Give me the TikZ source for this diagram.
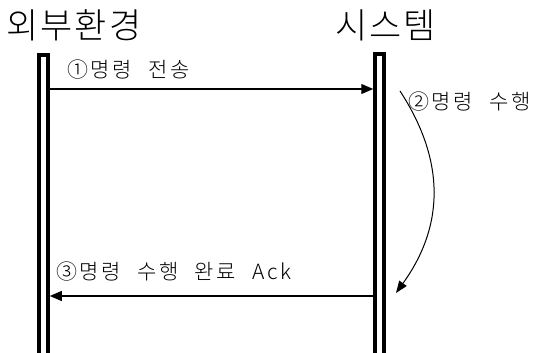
\documentclass[tikz,border=0pt]{standalone}
\usepackage{fontspec}
\newfontfamily\krt[LetterSpace=6,WordSpace=1.8]{Noto Sans CJK KR Light}
\newfontfamily\krl[LetterSpace=12,WordSpace=2.3]{Noto Sans CJK KR Light}
\usetikzlibrary{arrows.meta}
\begin{document}
\begin{tikzpicture}[x=1pt,y=-1pt,
  bar/.style={draw,line width=3.5pt,fill=white,minimum width=9pt,inner sep=0pt,anchor=north},
  msg/.style={line width=1.3pt,-{Triangle[length=12pt,width=10pt]}},
  title/.style={font=\krt\fontsize{35}{35}\selectfont,inner sep=0pt,anchor=west},
  lbl/.style={font=\krl\fontsize{21}{21}\selectfont,inner sep=0pt,anchor=west}]
\useasboundingbox (0,0) rectangle (542,353);
\node[bar,minimum height=305pt] (L) at (43.5,53.5) {};
\node[bar,minimum height=305pt] (R) at (379.5,52.5) {};
\node[title] (tL) at (6,25) {외부환경};
\node[title] (tR) at (335,25) {시스템};
\coordinate (a1s) at (L.north east |- 0,89);
\coordinate (a1e) at (R.north west |- 0,89);
\draw[msg] (a1s) -- (a1e);
\node[lbl] (l1) at (67,70) {①명령 전송};
\node[lbl] (l2) at (408,102) {②명령 수행};
\coordinate (c1) at (400,91);
\coordinate (c2) at (396,293);
\draw[line width=1pt,-{Triangle[length=12pt,width=9pt]}] (c1) .. controls (445,160) and (445,225) .. (c2);
\coordinate (a3s) at (R.north west |- 0,296);
\coordinate (a3e) at (L.north east |- 0,296);
\draw[msg] (a3s) -- (a3e);
\node[lbl] (l3) at (56,272) {③명령 수행 완료 Ack};
\end{tikzpicture}
\end{document}
